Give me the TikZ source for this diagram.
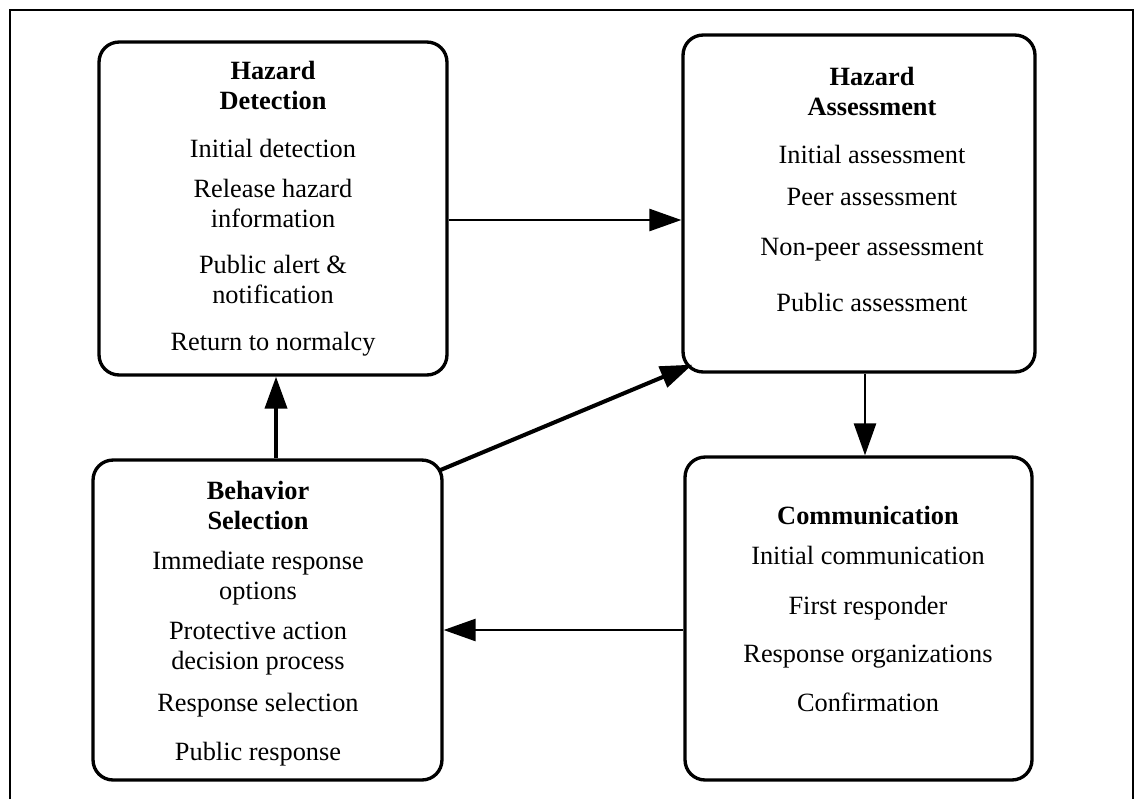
\documentclass[tikz,border=0pt]{standalone}
\usepackage{fontspec}
\setmainfont{Liberation Serif}
\usetikzlibrary{arrows.meta,calc}

\tikzset{
  box/.style={draw,line width=1.9pt,rounded corners=0.4cm,inner sep=0pt},
  boxtext/.style={align=center,inner sep=0pt,anchor=north,font=\fontsize{15}{17}\selectfont},
  arr/.style={line width=1.5pt,-{Triangle[length=0.64cm,width=0.44cm]}}
}

\begin{document}
\begin{tikzpicture}[x=0.02cm,y=-0.02cm]

    \useasboundingbox (0,0) rectangle (1135,799);

    %draw frame
    \draw[line width=1.5pt] (10,799) -- (10,10) -- (1133,10) -- (1133,799);

    %draw boxes
    \node[box,minimum width=6.96cm,minimum height=6.66cm] (detect) at (273,208.5) {};
    \node[box,minimum width=7.04cm,minimum height=6.74cm] (assess) at (859,203.5) {};
    \node[box,minimum width=6.98cm,minimum height=6.4cm]  (select) at (267.5,620) {};
    \node[box,minimum width=6.94cm,minimum height=6.46cm] (commun) at (858.5,618.5) {};

    %draw box texts
    \node[boxtext] (detecttext) at (273,61) {\textbf{Hazard}\\ \textbf{Detection}\\[10.2pt]
        Initial detection\\[5.7pt] Release hazard\\ information\\[9.7pt]
        Public alert \&\\ notification\\[9.7pt] Return to normalcy};
    \node[boxtext] (assesstext) at (872,67) {\textbf{Hazard}\\ \textbf{Assessment}\\[10.2pt]
        Initial assessment\\[6.8pt] Peer assessment\\[11.4pt]
        Non-peer assessment\\[15.4pt] Public assessment};
    \node[boxtext] (selecttext) at (258,481) {\textbf{Behavior}\\ \textbf{Selection}\\[5.7pt]
        Immediate response\\ options\\[5.7pt] Protective action\\ decision process\\[7.4pt]
        Response selection\\[10.8pt] Public response};
    \node[boxtext] (communtext) at (868,506) {\textbf{Communication}\\[5.7pt]
        Initial communication\\[11.4pt] First responder\\[10.2pt]
        Response organizations\\[10.8pt] Confirmation};

    %draw arrows
    \draw[arr] (detect.east |- 0,220) -- (assess.west |- 0,220);
    \draw[arr] (assess.south -| 865,0) -- (commun.north -| 865,0);
    \draw[arr] (commun.west |- 0,630) -- (select.east |- 0,630);
    \draw[arr,line width=2.2pt] (select.north -| 276,0) -- (detect.south -| 276,0);
    \draw[arr,line width=2.3pt] ($(select.north east)+(-4,12)$) -- ($(assess.south west)+(11,-9)$);

\end{tikzpicture}
\end{document}
